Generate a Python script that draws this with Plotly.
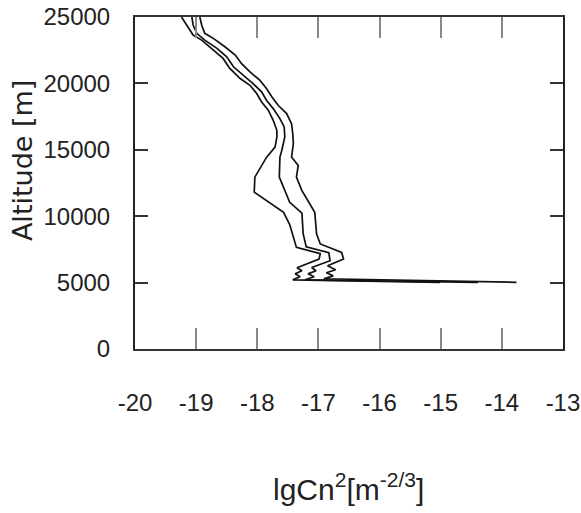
import plotly.graph_objects as go

# Curve 1 (left)
alt_1 = [25000, 23640, 23260, 22510, 21880, 21130, 20370, 19860, 19240, 18600, 17980, 17220,
         16470, 15960, 15200, 14430, 12940, 11810, 10290, 9370, 7650, 7180, 6770, 6120, 5890,
         5660, 5440, 5210, 5020]
cn_1 = [-19.24, -19.05, -18.91, -18.72, -18.56, -18.45, -18.28, -18.12, -18.01, -17.93, -17.82,
        -17.74, -17.68, -17.68, -17.71, -17.85, -18.04, -18.05, -17.57, -17.47, -17.36, -16.97,
        -16.99, -17.35, -17.27, -17.38, -17.30, -17.42, -15.01]

# Curve 2 (middle)
alt_2 = [25000, 24400, 23770, 23260, 22640, 22000, 21250, 20620, 19990, 19360, 18730, 18100,
         17350, 16720, 15960, 14950, 14450, 12940, 11050, 10230, 8690, 7700, 7250, 6650, 6140,
         5890, 5660, 5440, 5210, 5020]
cn_2 = [-19.07, -19.05, -18.99, -18.86, -18.66, -18.50, -18.39, -18.23, -18.07, -17.93, -17.85,
        -17.74, -17.63, -17.56, -17.55, -17.60, -17.63, -17.64, -17.47, -17.27, -17.25, -17.20,
        -16.83, -16.81, -17.11, -17.04, -17.17, -17.07, -17.22, -14.39]

# Curve 3 (right)
alt_3 = [25000, 24400, 23770, 23390, 22760, 22130, 21500, 20870, 20240, 19610, 18980, 18350,
         17730, 16970, 16220, 15460, 14450, 13820, 12940, 11930, 10290, 8660, 7910, 7270, 6780,
         6270, 5970, 5740, 5510, 5290, 5020]
cn_3 = [-18.94, -18.91, -18.86, -18.72, -18.53, -18.36, -18.26, -18.12, -17.96, -17.85, -17.76,
        -17.66, -17.52, -17.44, -17.42, -17.41, -17.44, -17.33, -17.36, -17.27, -17.06, -17.03,
        -16.97, -16.62, -16.59, -16.85, -16.72, -16.87, -16.76, -16.91, -13.76]

x_ticks = [-20, -19, -18, -17, -16, -15, -14, -13]
y_ticks = [0, 5000, 10000, 15000, 20000, 25000]
x_title = "lgCn<sup>2</sup>[m<sup>-2/3</sup>]"
y_title = "Altitude [m]"

tick_font = "Liberation Sans, Arial, sans-serif"

fig = go.Figure()
for xs, ys in [(cn_1, alt_1), (cn_2, alt_2), (cn_3, alt_3)]:
    fig.add_trace(go.Scatter(x=xs, y=ys, mode="lines",
                             line=dict(color="#111111", width=1.7),
                             showlegend=False, hoverinfo="skip"))

fig.update_layout(
    width=581, height=513,
    margin=dict(l=135, r=18, t=17, b=164),
    paper_bgcolor="white", plot_bgcolor="white",
    showlegend=False,
)
fig.update_xaxes(
    range=[-20.0005, -12.9995], tickvals=x_ticks, ticktext=[str(v) for v in x_ticks],
    showgrid=False, zeroline=False, automargin=False,
    showline=True, linecolor="#333333", linewidth=2, mirror="ticks",
    ticks="inside", ticklen=21, tickwidth=2, tickcolor="#888888",
    tickfont=dict(family=tick_font, size=24, color="#222222"),
    ticklabelstandoff=31,
)
fig.update_yaxes(
    range=[0, 25000], tickvals=y_ticks, ticktext=[str(v) for v in y_ticks],
    showgrid=False, zeroline=False, automargin=False,
    showline=True, linecolor="#222222", linewidth=2, mirror="ticks",
    ticks="inside", ticklen=13, tickwidth=2, tickcolor="#333333",
    tickfont=dict(family=tick_font, size=24, color="#222222"),
    ticklabelstandoff=18,
)
fig.add_annotation(text=x_title, xref="paper", yref="paper", x=0.498, y=-0.416,
                   showarrow=False, xanchor="center", yanchor="middle",
                   font=dict(family=tick_font, size=30, color="#222222"))
fig.add_annotation(text=y_title, xref="paper", yref="paper", x=-0.264, y=0.566,
                   showarrow=False, xanchor="center", yanchor="middle", textangle=-90,
                   font=dict(family="DejaVu Sans, Verdana, sans-serif", size=27, color="#222222"))

fig.write_html("out.html")
